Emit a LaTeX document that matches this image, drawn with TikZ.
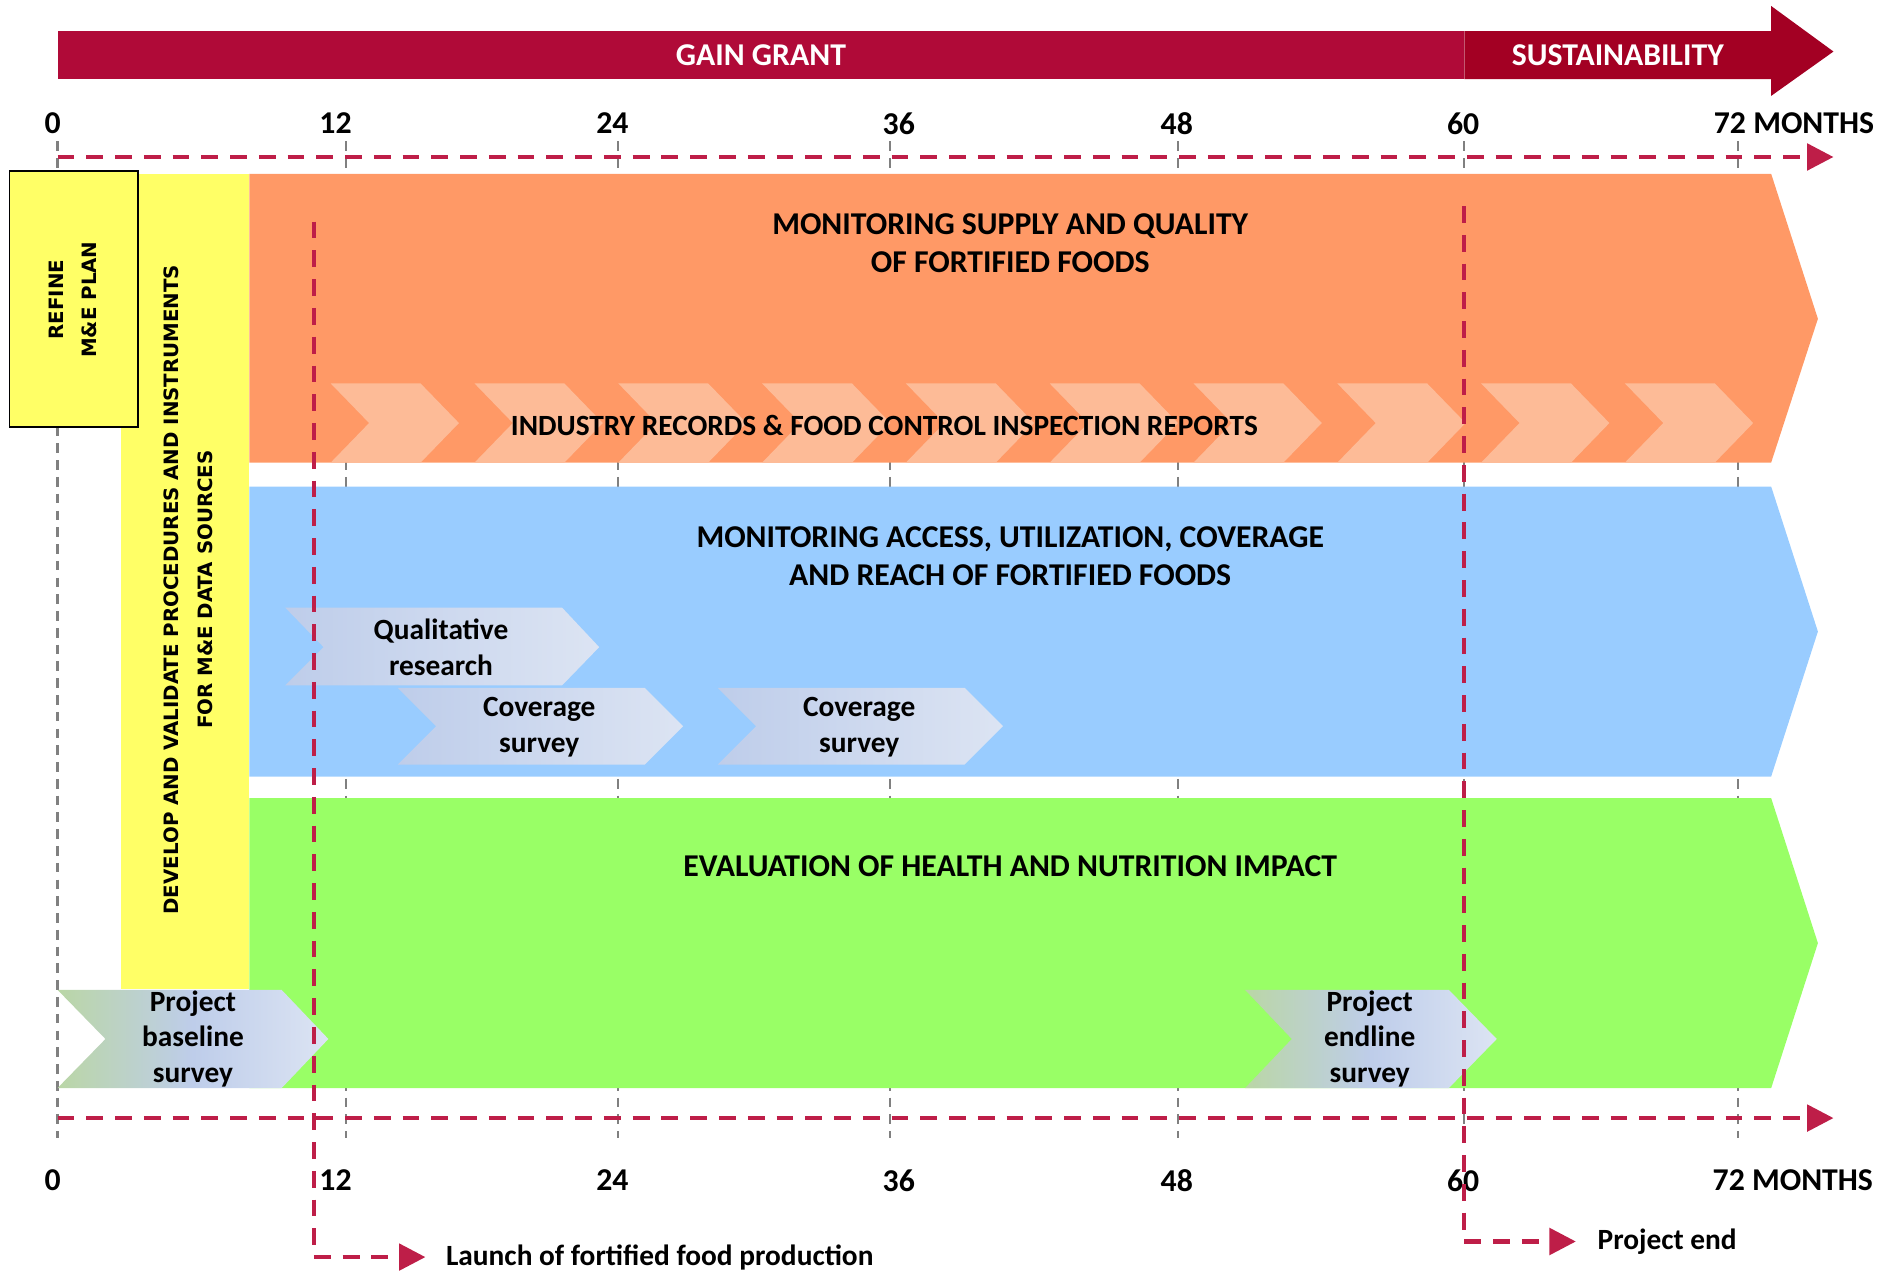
\documentclass[tikz,border=0pt]{standalone}
\usepackage{fontspec}
\setmainfont{Carlito}
\newfontfamily\verd{DejaVu Sans}
\usetikzlibrary{arrows.meta}

\definecolor{grantred}{RGB}{176,10,56}
\definecolor{sustred}{RGB}{163,0,35}
\definecolor{supplyor}{RGB}{255,153,102}
\definecolor{chevor}{RGB}{253,187,151}
\definecolor{accessbl}{RGB}{153,204,255}
\definecolor{impactgr}{RGB}{153,255,102}
\definecolor{prepyel}{RGB}{255,255,102}
\definecolor{milered}{RGB}{190,30,72}
\definecolor{survlo}{RGB}{190,205,234}
\definecolor{survhi}{RGB}{220,228,243}
\definecolor{survgr}{RGB}{186,214,166}

\tikzset{
  bigtext/.style={font=\fontsize{26.5}{32}\selectfont\bfseries, align=center, inner sep=0pt},
  subtext/.style={font=\fontsize{24.5}{30}\selectfont\bfseries, align=center, inner sep=0pt},
  verttext/.style={font=\verd\fontsize{16.5}{28}\selectfont\bfseries, align=center, rotate=90, inner sep=0pt},
  milestone/.style={draw=milered, line width=3.5pt, dash pattern=on 14pt off 10pt,
    -{Triangle[length=22pt,width=22pt]}},
  monthtick/.style={draw=gray, line width=1.8pt, dash pattern=on 8pt off 6pt},
}

\begin{document}
\begin{tikzpicture}[x=1pt,y=-1pt]
  \useasboundingbox (0,0) rectangle (1568,1061);

  % grant bar
  \fill[grantred] (48,26) rectangle (1222,66);
  \fill[sustred] (1222,26) -- (1478,26) -- (1478,5) -- (1530,43) -- (1478,80) -- (1478,66) -- (1222,66) -- cycle;
  \node[bigtext, text=white] (grant) at (635,46) {GAIN GRANT};
  \node[bigtext, text=white] (sust) at (1350,46) {SUSTAINABILITY};

  % month ticks
  \foreach \x in {48,289,516,743,983,1222,1450}
    \draw[monthtick] (\x,118) -- (\x,950);
  \foreach \m/\x in {0/44,12/280,24/511,36/750,48/982,60/1221} {
    \node[bigtext] (top\m) at (\x,103) {\m};
    \node[bigtext] (bot\m) at (\x,985) {\m};
  }
  \node[bigtext, anchor=west] (top72) at (1430,103) {72 MONTHS};
  \node[bigtext, anchor=west] (bot72) at (1429,985) {72 MONTHS};

  % preparation
  \fill[prepyel] (101,145) rectangle (208,825);
  \node[verttext] (develop) at (157,492) {DEVELOP AND VALIDATE PROCEDURES AND INSTRUMENTS\\FOR M\&E DATA SOURCES};
  \filldraw[fill=prepyel, draw=black, line width=1.5pt] (8,143) rectangle (115,356);
  \node[verttext] (refine) at (61,250) {REFINE\\M\&E PLAN};

  % bands
  \fill[supplyor] (208,145) -- (1478,145) -- (1517,266) -- (1478,386) -- (208,386) -- cycle;
  \foreach \x in {276,396,...,1356}
    \fill[chevor] (\x,320) -- (\x+75,320) -- (\x+107,353) -- (\x+75,386) -- (\x,386) -- (\x+32,353) -- cycle;
  \node[bigtext] (supply) at (843,203) {MONITORING SUPPLY AND QUALITY\\OF FORTIFIED FOODS};
  \node[subtext] (records) at (738,355) {INDUSTRY RECORDS \& FOOD CONTROL INSPECTION REPORTS};

  \fill[accessbl] (208,406) -- (1478,406) -- (1517,527) -- (1478,648) -- (208,648) -- cycle;
  \node[bigtext] (access) at (843,464) {MONITORING ACCESS, UTILIZATION, COVERAGE\\AND REACH OF FORTIFIED FOODS};
  \shade[left color=survlo, right color=survhi] (238,507) -- (469,507) -- (500,540) -- (469,572) -- (238,572) -- (270,540) -- cycle;
  \node[subtext] (qual) at (368,540) {Qualitative\\research};
  \foreach \x/\n in {332/cov1,599/cov2} {
    \shade[left color=survlo, right color=survhi] (\x,574) -- (\x+206,574) -- (\x+238,606) -- (\x+206,638) -- (\x,638) -- (\x+32,606) -- cycle;
    \node[subtext] (\n) at (\x+118,607) {Coverage\\survey};
  }

  \fill[impactgr] (208,666) -- (1478,666) -- (1517,787) -- (1478,908) -- (208,908) -- cycle;
  \node[bigtext] (impact) at (843,723) {EVALUATION OF HEALTH AND NUTRITION IMPACT};
  \shade[left color=survgr, right color=survhi, middle color=survlo] (48,826) -- (235,826) -- (274,867) -- (235,908) -- (48,908) -- (88,867) -- cycle;
  \node[subtext] (base) at (161,867) {Project\\baseline\\survey};
  \shade[left color=survgr, right color=survhi, middle color=survlo] (1039,826) -- (1209,826) -- (1249,867) -- (1209,908) -- (1039,908) -- (1078,867) -- cycle;
  \node[subtext] (endl) at (1143,867) {Project\\endline\\survey};

  % timelines
  \coordinate (ttop0) at (48,131);
  \coordinate (ttopend) at (1530,131);
  \coordinate (tbot0) at (48,933);
  \coordinate (tbotend) at (1530,933);
  \draw[milestone] (ttop0) -- (ttopend);
  \draw[milestone] (tbot0) -- (tbotend);

  % milestones
  \node[subtext, anchor=west] (launch) at (372,1049) {Launch of fortified food production};
  \node[subtext, anchor=west] (projend) at (1333,1036) {Project end};
  \coordinate (launchtop) at (262,185);
  \coordinate (endtop) at (1222,172);
  \draw[milestone, shorten >=17pt] (launchtop) |- (launch.west);
  \draw[milestone, shorten >=18pt] (endtop) |- (projend.west);
\end{tikzpicture}
\end{document}
